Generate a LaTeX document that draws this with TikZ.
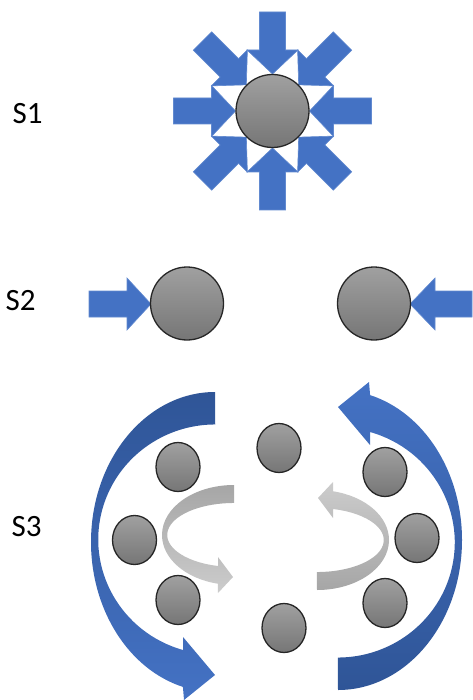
\documentclass[tikz,border=0pt]{standalone}
\usepackage{fontspec}
\setmainfont{Carlito}
\usetikzlibrary{shapes.geometric}

\definecolor{pushblue}{RGB}{68,114,196}
\definecolor{pushedge}{RGB}{98,138,208}
\definecolor{deepblue}{RGB}{47,85,151}
\definecolor{ballhi}{RGB}{160,160,160}
\definecolor{balllo}{RGB}{118,118,118}
\definecolor{ribbonhi}{RGB}{166,166,166}
\definecolor{ribbonlo}{RGB}{204,204,204}

\begin{document}
\begin{tikzpicture}[x=1pt, y=-1pt,
    stage/.style={font=\fontsize{31}{31}\selectfont, inner sep=0pt},
    ball/.style={circle, draw=black!85, line width=1.3pt, top color=ballhi, bottom color=balllo, minimum size=73pt, inner sep=0pt},
    smallball/.style={ellipse, draw=black!85, line width=1.3pt, top color=ballhi, bottom color=balllo, minimum width=44pt, minimum height=49pt, inner sep=0pt},
    push/.style={fill=pushblue, draw=pushedge, line width=0.6pt},
    swirldown/.style={top color=deepblue, bottom color=pushblue},
    swirlup/.style={top color=pushblue, bottom color=deepblue},
    ribbondown/.style={top color=ribbonhi, bottom color=ribbonlo},
    ribbonup/.style={top color=ribbonlo, bottom color=ribbonhi}]
        % \draw[help lines, gray!50, very thin] (0,0) grid[step=50] (472,700);
        \useasboundingbox (0,0) rectangle (472,700);

        % S1
        \node[stage] (s1) at (27.5,114) {S1};
        \foreach \a in {0,45,...,315}
          \draw[push, shift={(272.5,111)}, rotate=\a] (99,-13) -- (61,-13) -- (61,-25.5) -- (37,0) -- (61,25.5) -- (61,13) -- (99,13) -- cycle;
        \node[ball] (core) at (272.5,111) {};

        % S2
        \node[stage] (s2) at (20.5,301) {S2};
        \draw[push] (89,291) -- (127,291) -- (127,278) -- (151,304) -- (127,330) -- (127,317) -- (89,317) -- cycle;
        \draw[push] (472,291) -- (435,291) -- (435,278) -- (410,304) -- (435,330) -- (435,317) -- (472,317) -- cycle;
        \node[ball] (pairL) at (187,303.5) {};
        \node[ball] (pairR) at (374,303.5) {};

        % S3
        \node[stage] (s3) at (26.5,527) {S3};
        \draw[swirldown, draw=none] (215,392) arc[start angle=90, end angle=255, x radius=124pt, y radius=150pt] -- (184,700) -- (215,675) -- (183,637) -- (183,650) arc[start angle=254, end angle=90, x radius=117pt, y radius=115pt] -- cycle;
        \draw[ribbondown, draw=none] (234,485) arc[start angle=90, end angle=257, x radius=72pt, y radius=50pt] -- (218,593) -- (233,577) -- (218,557) -- (218,566) arc[start angle=256, end angle=90, x radius=67pt, y radius=32pt] -- cycle;

        \begin{scope}[rotate around={180:(276.5,541)}]
          \draw[swirlup, draw=none] (215,392) arc[start angle=90, end angle=255, x radius=124pt, y radius=150pt] -- (184,700) -- (215,675) -- (183,637) -- (183,650) arc[start angle=254, end angle=90, x radius=117pt, y radius=115pt] -- cycle;
        \end{scope}
        \begin{scope}[rotate around={180:(275.5,537.5)}]
          \draw[ribbonup, draw=none] (234,485) arc[start angle=90, end angle=257, x radius=72pt, y radius=50pt] -- (218,593) -- (233,577) -- (218,557) -- (218,566) arc[start angle=256, end angle=90, x radius=67pt, y radius=32pt] -- cycle;
        \end{scope}

        \node[smallball] (top) at (279,448) {};
        \node[smallball] (bottom) at (284,628) {};
        \node[smallball] (leftA) at (178,467) {};
        \node[smallball] (leftB) at (134.5,540) {};
        \node[smallball] (leftC) at (178,600) {};
        \node[smallball] (rightA) at (385,472) {};
        \node[smallball] (rightB) at (417,538) {};
        \node[smallball] (rightC) at (385,603) {};
      \end{tikzpicture}
\end{document}
